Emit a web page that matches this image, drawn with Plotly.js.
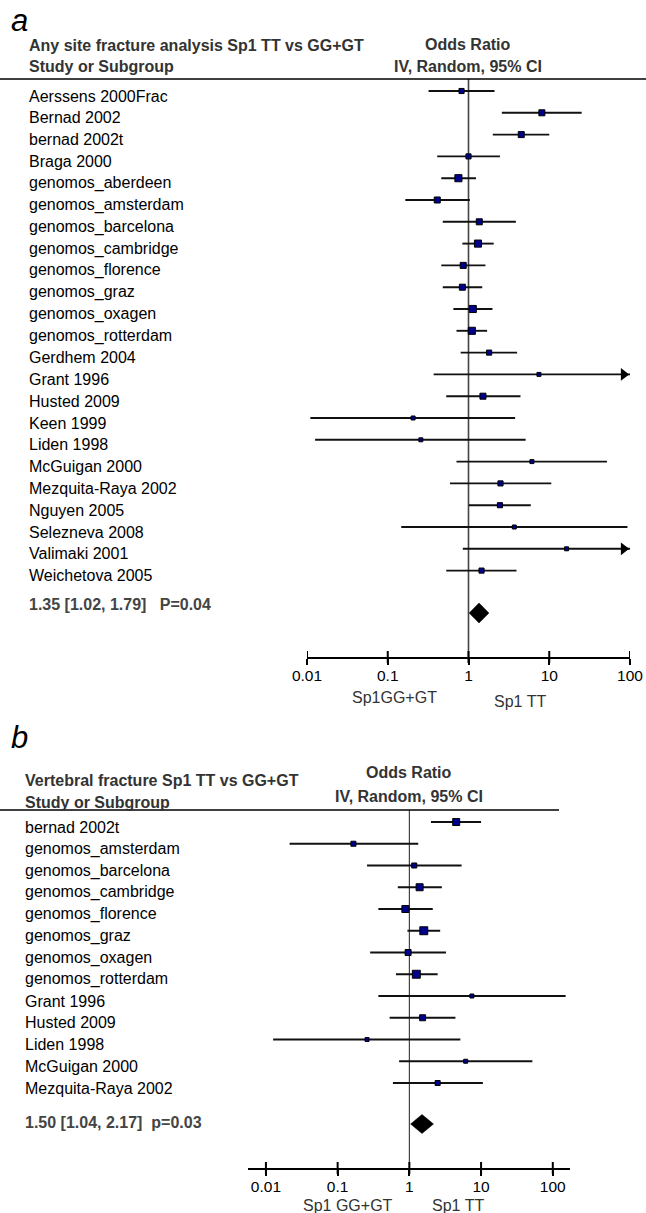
<!DOCTYPE html>
<html>
<head>
<meta charset="utf-8">
<script src="https://cdn.plot.ly/plotly-3.0.1.min.js"></script>
<style>html,body{margin:0;padding:0;background:#fff}#chart{width:646px;height:1213px}</style>
</head>
<body>
<div id="chart"></div>
<script>
// ---------- Panel a: any site fracture ----------
const studiesA = ["Aerssens 2000Frac","Bernad 2002","bernad 2002t","Braga 2000","genomos_aberdeen","genomos_amsterdam","genomos_barcelona","genomos_cambridge","genomos_florence","genomos_graz","genomos_oxagen","genomos_rotterdam","Gerdhem 2004","Grant 1996","Husted 2009","Keen 1999","Liden 1998","McGuigan 2000","Mezquita-Raya 2002","Nguyen 2005","Selezneva 2008","Valimaki 2001","Weichetova 2005"];
const orA  = [0.82, 8.1, 4.5, 1.0, 0.75, 0.41, 1.36, 1.31, 0.86, 0.84, 1.13, 1.10, 1.80, 7.45, 1.51, 0.206, 0.257, 6.1, 2.49, 2.45, 3.69, 16.4, 1.45];
const loA  = [0.32, 2.59, 2.0, 0.41, 0.46, 0.165, 0.48, 0.84, 0.46, 0.48, 0.65, 0.71, 0.80, 0.37, 0.53, 0.011, 0.0126, 0.71, 0.59, 1.01, 0.147, 0.85, 0.53];
const hiA  = [2.10, 25.2, 10.0, 2.45, 1.24, 1.04, 3.86, 2.05, 1.62, 1.48, 1.98, 1.70, 4.0, 151, 4.4, 3.78, 5.1, 51.8, 10.6, 5.9, 93, 316, 3.93];
const weightA = [3, 5, 5, 3, 8, 5, 5, 8, 5, 5, 8, 8, 3, 1.2, 5, 1.2, 1.2, 1.2, 3, 3, 1.2, 1.2, 3];
const pooledA = [1.35, 1.02, 1.79];
const titleA = "Any site fracture analysis Sp1 TT vs GG+GT";
const summaryTextA = "1.35 [1.02, 1.79]\u00a0\u00a0 P=0.04";
const favourA = ["Sp1GG+GT", "Sp1 TT"];

// ---------- Panel b: vertebral fracture ----------
const studiesB = ["bernad 2002t","genomos_amsterdam","genomos_barcelona","genomos_cambridge","genomos_florence","genomos_graz","genomos_oxagen","genomos_rotterdam","Grant 1996","Husted 2009","Liden 1998","McGuigan 2000","Mezquita-Raya 2002"];
const orB  = [4.5, 0.166, 1.17, 1.39, 0.88, 1.59, 0.96, 1.25, 7.45, 1.53, 0.257, 6.1, 2.48];
const loB  = [2.0, 0.0214, 0.257, 0.69, 0.37, 0.94, 0.284, 0.65, 0.37, 0.53, 0.0126, 0.72, 0.59];
const hiB  = [10.0, 1.33, 5.35, 2.84, 2.12, 2.69, 3.24, 2.48, 151, 4.39, 5.14, 51.9, 10.6];
const weightB = [7.7, 2.8, 2.8, 7.7, 7.7, 11, 4.9, 11, 1.2, 4.9, 1.2, 1.2, 2.8];
const pooledB = [1.50, 1.04, 2.17];
const titleB = "Vertebral fracture Sp1 TT vs GG+GT";
const summaryTextB = "1.50 [1.04, 2.17]\u00a0 p=0.03";
const favourB = ["Sp1 GG+GT", "Sp1 TT"];

const tickVals = [0.01, 0.1, 1, 10, 100];
const tickText = ["0.01", "0.1", "1", "10", "100"];

// ---------- layout helpers ----------
const W = 646, H = 1213;
const px = p => p / W;
const py = p => 1 - p / H;
const FONT = "Liberation Sans, Arial, Helvetica, sans-serif";

function panel(cfg) {
  const n = cfg.studies.length;
  const rowPx = cfg.rowPx;
  const rTop = -(cfg.row0 - cfg.top) / rowPx;
  const rBot = rTop + (cfg.bottom - cfg.top) / rowPx;
  const sumRow = rTop + (cfg.diamondPx - cfg.top) / rowPx;
  const pxPerDec = (cfg.xr - cfg.xl) / (cfg.range[1] - cfg.range[0]);
  const xmax = Math.pow(10, cfg.range[1]);
  const traces = [];
  const lx = [], ly = [];
  for (let i = 0; i < n; i++) {
    lx.push(cfg.lo[i], Math.min(cfg.hi[i], xmax), null);
    ly.push(i, i, null);
  }
  traces.push({type:'scatter', mode:'lines', x:lx, y:ly, xaxis:cfg.xa, yaxis:cfg.ya,
    line:{color:'#111', width:1.9}, hoverinfo:'skip', showlegend:false});
  // arrows for CIs beyond the axis
  const ax = [], ay = [];
  for (let i = 0; i < n; i++) {
    if (cfg.hi[i] > xmax) { ax.push(Math.pow(10, cfg.range[1] - 6.35 / pxPerDec)); ay.push(i); }
  }
  if (ax.length) traces.push({type:'scatter', mode:'markers', x:ax, y:ay, xaxis:cfg.xa, yaxis:cfg.ya,
    marker:{symbol:'triangle-right', size:11, color:'#000', line:{width:0}}, cliponaxis:false, hoverinfo:'skip', showlegend:false});
  traces.push({type:'scatter', mode:'markers', x:cfg.or, y:cfg.studies.map((s, i) => i), xaxis:cfg.xa, yaxis:cfg.ya,
    marker:{symbol:'square', size:cfg.weight.map(w => 2 + 1.8 * Math.sqrt(w)), color:'#00008c', opacity:1, line:{color:'#000', width:1}},
    hoverinfo:'skip', showlegend:false});
  const h = cfg.diamondHalf / rowPx;
  const p = cfg.pooled;
  traces.push({type:'scatter', mode:'lines', x:[p[1], p[0], p[2], p[0], p[1]], y:[sumRow, sumRow - h, sumRow, sumRow + h, sumRow],
    xaxis:cfg.xa, yaxis:cfg.ya, fill:'toself', fillcolor:'#000', line:{color:'#000', width:0.5}, hoverinfo:'skip', showlegend:false});

  const xaxis = {type:'log', range:cfg.range, domain:[px(cfg.xl), px(cfg.xr)], anchor:cfg.ya,
    showline:true, linecolor:'#000', linewidth:2, ticks:'outside', ticklen:6, tickwidth:2, tickcolor:'#000',
    ticklabelstandoff:-3,
    tickvals:tickVals, ticktext:tickText, tickfont:{family:FONT, size:15.5, color:'#000'},
    showgrid:false, zeroline:false, fixedrange:true};
  const yaxis = {range:[rBot, rTop], domain:[py(cfg.bottom), py(cfg.top)], visible:false, showgrid:false, zeroline:false, fixedrange:true};

  const xref = cfg.xa, yref = cfg.ya;
  const shapes = [];
  shapes.push({type:'line', xref:'paper', yref:'paper', x0:0, x1:px(cfg.headerLineEnd), y0:py(cfg.top), y1:py(cfg.top), line:{color:'#000', width:1.6}});
  shapes.push({type:'line', xref:xref, yref:yref + ' domain', x0:1, x1:1, y0:0, y1:1, line:{color:cfg.refColor, width:cfg.refWidth}, layer:'below'});
  tickVals.forEach(t => shapes.push({type:'line', xref:xref, yref:yref + ' domain', ysizemode:'pixel', yanchor:0, x0:t, x1:t, y0:-6, y1:6, line:{color:'#000', width:2}}));

  const ann = [];
  const txt = (x, y, text, opts) => Object.assign({xref:'paper', yref:'paper', x:px(x), y:py(y), text:text, showarrow:false,
    xanchor:'left', yanchor:'middle', font:{family:FONT, size:16, color:'#111'}}, opts || {});
  ann.push(txt(cfg.letterX, cfg.letterY, '<i>' + cfg.letter + '</i>', {yanchor:'top', font:{family:FONT, size:31, color:'#000'}}));
  ann.push(txt(cfg.textX, cfg.titleY, '<b>' + cfg.title + '</b>', {font:{family:FONT, size:16, color:'#333'}}));
  ann.push(txt(cfg.textX, cfg.subY, '<b>Study or Subgroup</b>', {font:{family:FONT, size:16, color:'#333'}}));
  ann.push(txt(cfg.orX, cfg.orY1, '<b>Odds Ratio</b>', {xanchor:'center', font:{family:FONT, size:16, color:'#333'}}));
  ann.push(txt(cfg.orX, cfg.orY2, '<b>IV, Random, 95% CI</b>', {xanchor:'center', font:{family:FONT, size:16, color:'#333'}}));
  cfg.studies.forEach((s, i) => ann.push({xref:'paper', yref:yref, x:px(cfg.textX), y:i, yshift:-5, text:s, showarrow:false,
    xanchor:'left', yanchor:'middle', font:{family:FONT, size:16, color:'#000'}}));
  ann.push(txt(cfg.textX, cfg.summaryY, '<b>' + cfg.summaryText + '</b>', {font:{family:FONT, size:16, color:'#444'}}));
  ann.push(txt(cfg.fav1X, cfg.fav1Y, cfg.favour[0], {xanchor:'center', font:{family:FONT, size:16, color:'#333'}}));
  ann.push(txt(cfg.fav2X, cfg.fav2Y, cfg.favour[1], {xanchor:'center', font:{family:FONT, size:16, color:'#333'}}));
  return {traces, xaxis, yaxis, shapes, ann};
}

const A = panel({studies:studiesA, or:orA, lo:loA, hi:hiA, weight:weightA, pooled:pooledA,
  title:titleA, summaryText:summaryTextA, favour:favourA, letter:'a',
  xa:'x', ya:'y', top:79, row0:91, rowPx:21.8, bottom:657, diamondPx:613, diamondHalf:10,
  xl:307, xr:630, range:[-2, 2], headerLineEnd:646, refColor:'#444', refWidth:1.6,
  letterX:9, letterY:1, textX:27, titleY:46, subY:66, orX:468, orY1:45, orY2:66,
  summaryY:604, fav1X:395, fav1Y:697, fav2X:520, fav2Y:702});

const B = panel({studies:studiesB, or:orB, lo:loB, hi:hiB, weight:weightB, pooled:pooledB,
  title:titleB, summaryText:summaryTextB, favour:favourB, letter:'b',
  xa:'x2', ya:'y2', top:810, row0:822, rowPx:21.75, bottom:1168, diamondPx:1124, diamondHalf:9.5,
  xl:248, xr:570, range:[-2.25, 2.24], headerLineEnd:559, refColor:'#333', refWidth:1.1,
  letterX:9, letterY:718, textX:23, titleY:781, subY:802, orX:409, orY1:773, orY2:797,
  summaryY:1122, fav1X:348, fav1Y:1205, fav2X:458, fav2Y:1205});

const layout = {
  width:W, height:H, margin:{l:0, r:0, t:0, b:0}, paper_bgcolor:'#fff', plot_bgcolor:'rgba(0,0,0,0)',
  showlegend:false, hovermode:false,
  xaxis:A.xaxis, yaxis:A.yaxis, xaxis2:B.xaxis, yaxis2:B.yaxis,
  shapes:A.shapes.concat(B.shapes), annotations:A.ann.concat(B.ann)
};
Plotly.newPlot('chart', A.traces.concat(B.traces), layout, {staticPlot:true, displayModeBar:false});
</script>
</body>
</html>
